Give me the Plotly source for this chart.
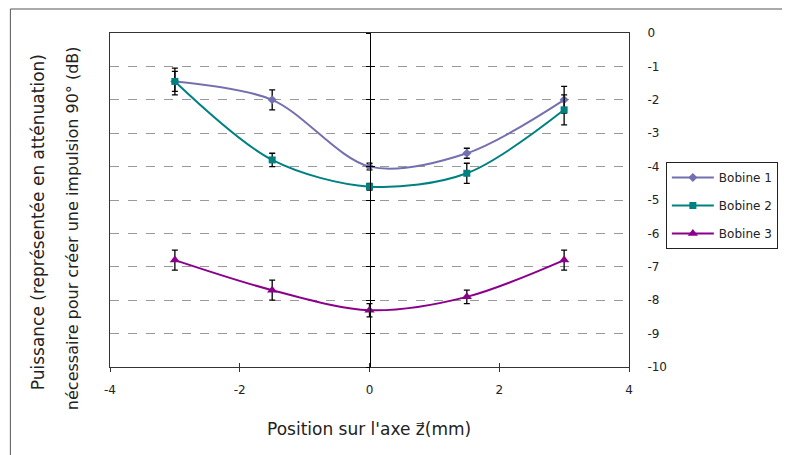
import plotly.graph_objects as go

positions = [-3, -1.5, 0, 1.5, 3]
bobine1 = [-1.45, -2.0, -4.0, -3.6, -2.0]
bobine2 = [-1.45, -3.8, -4.6, -4.2, -2.3]
bobine3 = [-6.8, -7.7, -8.3, -7.9, -6.8]
err1 = [0.4, 0.3, 0.1, 0.15, 0.4]
err2 = [0.3, 0.2, 0.1, 0.3, 0.45]
err3 = [0.3, 0.3, 0.2, 0.2, 0.3]
names = ["Bobine 1", "Bobine 2", "Bobine 3"]
colors = ["#7470B0", "#008080", "#8B008B"]
symbols = ["diamond", "square", "triangle-up"]
msizes = [7, 7, 9]
y_ticks = list(range(0, -11, -1))

FONT = "DejaVu Sans"

# page body has an 8px margin: work in screen coords and convert
OFF = 8
W, H = 790 - OFF, 455 - OFF
L, R, T, B = 110 - OFF, 631 - OFF, 33 - OFF, 367 - OFF
PW, PH = R - L, B - T


def px(x):
    return (x - OFF - L) / PW


def py(y):
    return (B - (y - OFF)) / PH


fig = go.Figure()
for i, (vals, errs) in enumerate([(bobine1, err1), (bobine2, err2), (bobine3, err3)]):
    fig.add_trace(go.Scatter(
        x=positions, y=vals, name=names[i], mode="lines+markers",
        legendgroup=names[i],
        line=dict(color=colors[i], width=2, shape="spline", smoothing=0.9),
        marker=dict(symbol=symbols[i], size=msizes[i], color=colors[i]),
        error_y=dict(type="data", array=errs, visible=True, color="black",
                     thickness=1.3, width=3),
    ))

# invisible traces to bind the crossing axes at x = 0
fig.add_trace(go.Scatter(x=[None], y=[None], yaxis="y2", showlegend=False, hoverinfo="skip"))
fig.add_trace(go.Scatter(x=[None], y=[None], yaxis="y3", showlegend=False, hoverinfo="skip"))
fig.add_trace(go.Scatter(x=[None], y=[None], xaxis="x2", showlegend=False, hoverinfo="skip"))

axis_font = dict(family=FONT, size=12, color="#222")

fig.update_layout(
    width=W, height=H,
    margin=dict(l=L, r=W - R, t=T, b=H - B),
    paper_bgcolor="white", plot_bgcolor="white",
    font=dict(family=FONT, color="#222"),
    showlegend=True,
    legend=dict(x=px(668), y=py(162), xanchor="left", yanchor="top",
                bgcolor="white", bordercolor="#222", borderwidth=1,
                font=dict(family=FONT, size=12, color="#222"),
                tracegroupgap=9, itemwidth=42),
    xaxis=dict(range=[-4, 4], tickvals=[-4, -2, 0, 2, 4], ticktext=["-4", "-2", "0", "2", "4"],
               showline=True, linecolor="#333", linewidth=1, mirror=True,
               ticks="outside", ticklen=4, tickcolor="#333",
               showgrid=False, zeroline=False, tickfont=axis_font, ticklabelstandoff=8),
    xaxis2=dict(range=[-4, 4], overlaying="x", anchor="y", side="bottom",
                tickvals=[-2, 0, 2], ticks="inside", ticklen=4, tickcolor="#333",
                showticklabels=False, showgrid=False, zeroline=False, showline=False),
    yaxis=dict(range=[-10, 0], side="right", tickvals=y_ticks,
               ticktext=[str(v) for v in y_ticks],
               showline=True, linecolor="#333", linewidth=1, mirror=True,
               ticks="", showgrid=True, gridcolor="#999", griddash="dash", gridwidth=1,
               zeroline=False, tickfont=axis_font, ticklabelstandoff=15),
    yaxis2=dict(range=[-10, 0], overlaying="y", anchor="free", position=0.5, side="left",
                tickvals=y_ticks, ticks="outside", ticklen=4, tickcolor="black",
                showticklabels=False, showline=True, linecolor="black", linewidth=1,
                showgrid=False, zeroline=False),
    yaxis3=dict(range=[-10, 0], overlaying="y", anchor="free", position=0.5, side="left",
                tickvals=y_ticks, ticks="inside", ticklen=4, tickcolor="black",
                showticklabels=False, showline=False,
                showgrid=False, zeroline=False),
    annotations=[
        dict(text="Puissance (représentée en atténuation)", xref="paper", yref="paper",
             x=px(38), y=py(222), textangle=-90, showarrow=False,
             xanchor="center", yanchor="middle", font=dict(family=FONT, size=17, color="#222")),
        dict(text="nécessaire pour créer une impulsion 90° (dB)", xref="paper", yref="paper",
             x=px(72), y=py(228), textangle=-90, showarrow=False,
             xanchor="center", yanchor="middle", font=dict(family=FONT, size=16, color="#222")),
        dict(text="Position sur l'axe z\u20d7(mm)", xref="paper", yref="paper",
             x=px(370), y=py(429), showarrow=False,
             xanchor="center", yanchor="middle", font=dict(family=FONT, size=17, color="#222")),
    ],
    shapes=[
        dict(type="rect", xref="paper", yref="paper",
             x0=px(10), x1=px(900),
             y0=py(600), y1=py(9),
             line=dict(color="#555", width=1), fillcolor="rgba(0,0,0,0)", layer="below"),
    ],
)

fig.write_html("out.html")
